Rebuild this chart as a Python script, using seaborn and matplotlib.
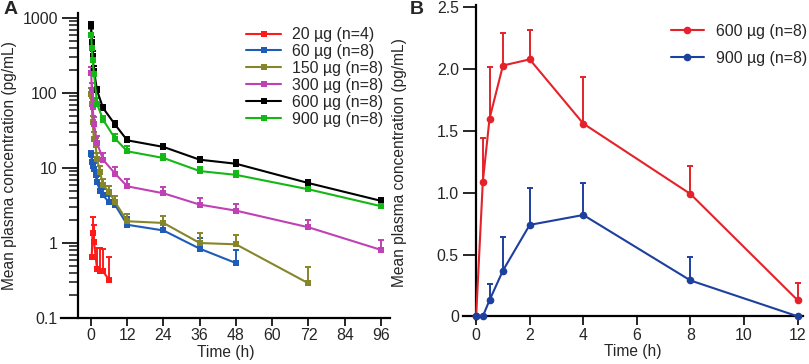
import numpy as np
import pandas as pd
import matplotlib
matplotlib.use("Agg")
import matplotlib.pyplot as plt
from matplotlib.lines import Line2D
from matplotlib.ticker import LogLocator, NullFormatter, FixedLocator
import seaborn as sns

# ---------------- Panel A data ----------------
t_20 = [0.25, 0.5, 1, 2, 3, 4, 6]
c_20 = [0.66, 1.35, 1.03, 0.455, 0.42, 0.42, 0.32]
u_20 = [0.70, 2.2, 1.72, 0.87, 0.85, 0.83, 0.65]

t_60 = [0.083, 0.25, 0.5, 1, 1.5, 2, 3, 4, 6, 8, 12, 24, 36, 48]
c_60 = [15.5, 12, 10.5, 9.8, 8.0, 6.5, 5.0, 4.3, 3.5, 3.2, 1.75, 1.47, 0.84, 0.54]
u_60 = [17.0, 14, 12.5, 11.5, 9.5, 7.8, 6.0, 5.2, 4.2, 3.8, 2.2, 1.9, 1.18, 0.8]

t_150 = [0.083, 0.25, 0.5, 1, 1.5, 2, 3, 4, 6, 8, 12, 24, 36, 48, 72]
c_150 = [98, 72, 41, 24, 20, 13.3, 8.8, 5.9, 4.8, 3.5, 1.95, 1.85, 1.0, 0.96, 0.29]
u_150 = [115, 85, 50, 30, 25, 16, 10.5, 7.2, 5.8, 4.2, 2.4, 2.27, 1.36, 1.27, 0.48]

t_300 = [0.083, 0.25, 0.5, 1, 2, 4, 8, 12, 24, 36, 48, 72, 96]
c_300 = [185, 108, 66, 39, 21.6, 12.9, 8.4, 5.7, 4.6, 3.25, 2.7, 1.62, 0.81]
u_300 = [225, 135, 80, 48, 27, 16, 10.3, 7.2, 5.6, 4.0, 3.3, 2.05, 1.1]

t_600 = [0.083, 0.25, 0.5, 1, 2, 4, 8, 12, 24, 36, 48, 72, 96]
c_600 = [780, 480, 310, 197, 108, 63, 37.8, 23.4, 19.1, 12.9, 11.4, 6.3, 3.65]
u_600 = [880, 560, 360, 230, 122, 70, 42, 26, 21, 14.2, 12.8, 7.0, 4.0]

t_900 = [0.083, 0.25, 0.5, 1, 2, 4, 8, 12, 24, 36, 48, 72, 96]
c_900 = [600, 400, 273, 181, 72, 44, 24.6, 16.7, 13.6, 9.1, 8.1, 5.2, 3.1]
u_900 = [720, 450, 310, 210, 85, 50, 28, 19.5, 15.5, 10.3, 9.2, 5.8, 3.4]

labels_A = ["20 µg (n=4)", "60 µg (n=8)", "150 µg (n=8)",
            "300 µg (n=8)", "600 µg (n=8)", "900 µg (n=8)"]
colors_A = ["#ff1a1a", "#1f5cb8", "#85862a", "#c041b3", "#000000", "#14b814"]

# ---------------- Panel B data ----------------
t_B = [0, 0.25, 0.5, 1, 2, 4, 8, 12]
c_B600 = [0, 1.09, 1.60, 2.03, 2.08, 1.56, 0.99, 0.13]
u_B600 = [0, 1.44, 2.02, 2.29, 2.32, 1.94, 1.22, 0.27]
c_B900 = [0, 0, 0.13, 0.37, 0.74, 0.82, 0.29, 0.0]
u_B900 = [0, 0, 0.26, 0.64, 1.04, 1.08, 0.48, 0.0]
labels_B = ["600 µg (n=8)", "900 µg (n=8)"]
colors_B = ["#e3222a", "#1d3f9e"]

sns.set_theme(style="white")
plt.rcParams['font.family'] = ['Liberation Sans', 'DejaVu Sans']
plt.rcParams['font.size'] = 11

FS = 11.4
W, H = 809, 364
fig = plt.figure(figsize=(W / 100, H / 100), dpi=100)

def frac(l, r, t, b):
    return [l / W, (H - b) / H, (r - l) / W, (b - t) / H]

# ================= Panel A =================
axA = fig.add_axes(frac(61, 390, 13, 318))
seriesA = [(t_20, c_20, u_20), (t_60, c_60, u_60), (t_150, c_150, u_150),
           (t_300, c_300, u_300), (t_600, c_600, u_600), (t_900, c_900, u_900)]
rows = []
for lab, (t, c, u) in zip(labels_A, seriesA):
    for ti, ci in zip(t, c):
        rows.append({"t": ti, "c": ci, "dose": lab})
dfA = pd.DataFrame(rows)
pal_A = dict(zip(labels_A, colors_A))
sns.lineplot(data=dfA, x="t", y="c", hue="dose", palette=pal_A, marker="s",
             markersize=4, markeredgewidth=0, linewidth=1.5, ax=axA,
             legend=False, estimator=None, sort=False, zorder=3)
for col, (t, c, u) in zip(colors_A, seriesA):
    c = np.array(c); u = np.array(u)
    axA.errorbar(t, c, yerr=[np.zeros_like(c), u - c], fmt="none", ecolor=col,
                 elinewidth=1.4, capsize=2.5, capthick=1.4, zorder=2)
axA.set_yscale("log")
axA.set_xlim(-9.93, 99)
axA.set_ylim(0.1, 1166)
axA.spines["left"].set_position(("data", -4.3))
axA.spines["top"].set_visible(False)
axA.spines["right"].set_visible(False)
for s in ["left", "bottom"]:
    axA.spines[s].set_linewidth(1.6)
    axA.spines[s].set_color("black")
axA.set_xticks([0, 12, 24, 36, 48, 60, 72, 84, 96])
axA.set_xticklabels(["0", "12", "24", "36", "48", "60", "72", "84", "96"])
axA.yaxis.set_major_locator(FixedLocator([0.1, 1, 10, 100, 1000]))
axA.set_yticklabels(["0.1", "1", "10", "100", "1000"])
axA.yaxis.set_minor_locator(LogLocator(base=10, subs=np.arange(2, 10), numticks=20))
axA.yaxis.set_minor_formatter(NullFormatter())
axA.tick_params(axis="y", which="major", direction="out", length=11.5, width=1.4,
                pad=3, labelsize=FS, left=True)
axA.tick_params(axis="y", which="minor", direction="out", length=6.5, width=1.2, left=True)
axA.tick_params(axis="x", which="major", direction="out", length=5.5, width=1.4,
                pad=2, labelsize=FS, bottom=True)
axA.set_xlabel("Time (h)", fontsize=11.2, labelpad=1)
axA.set_ylabel("Mean plasma concentration (pg/mL)", fontsize=11.2, labelpad=4)
axA.grid(False)
handlesA = [Line2D([], [], color=c, marker="s", markersize=4, markeredgewidth=0,
                   linewidth=1.5) for c in colors_A]
axA.legend(handlesA, labels_A, loc="upper left", bbox_to_anchor=(0.53, 0.99),
           frameon=False, fontsize=FS, handlelength=2.2, handletextpad=0.65,
           labelspacing=0.12, borderaxespad=0.3)

# ================= Panel B =================
axB = fig.add_axes(frac(463, 803, 5, 320))
rowsB = []
for lab, c in zip(labels_B, [c_B600, c_B900]):
    for ti, ci in zip(t_B, c):
        rowsB.append({"t": ti, "c": ci, "dose": lab})
dfB = pd.DataFrame(rowsB)
pal_B = dict(zip(labels_B, colors_B))
sns.lineplot(data=dfB, x="t", y="c", hue="dose", palette=pal_B, marker="o",
             markersize=5.5, markeredgewidth=0, linewidth=1.5, ax=axB,
             legend=False, estimator=None, sort=False, zorder=3, clip_on=False)
for col, c, u in zip(colors_B, [c_B600, c_B900], [u_B600, u_B900]):
    c = np.array(c); u = np.array(u)
    axB.errorbar(t_B, c, yerr=[np.zeros_like(c), u - c], fmt="none", ecolor=col,
                 elinewidth=1.4, capsize=2.5, capthick=1.4, zorder=2)
axB.set_xlim(-0.49, 12.2)
axB.set_ylim(-0.03, 2.52)
axB.spines["bottom"].set_position(("data", 0))
axB.spines["left"].set_position(("data", 0))
axB.spines["top"].set_visible(False)
axB.spines["right"].set_visible(False)
for s in ["left", "bottom"]:
    axB.spines[s].set_linewidth(1.6)
    axB.spines[s].set_color("black")
axB.set_xticks([0, 2, 4, 6, 8, 10, 12])
axB.set_yticks([0, 0.5, 1.0, 1.5, 2.0, 2.5])
axB.set_yticklabels(["0", "0.5", "1.0", "1.5", "2.0", "2.5"])
axB.tick_params(axis="y", direction="out", length=9.5, width=1.4, pad=3,
                labelsize=FS, left=True)
axB.tick_params(axis="x", direction="out", length=6.5, width=1.4, pad=2,
                labelsize=FS, bottom=True)
axB.set_xlabel("Time (h)", fontsize=11.2, labelpad=1)
axB.set_ylabel("Mean plasma concentration (pg/mL)", fontsize=11.2, labelpad=21)
axB.grid(False)
handlesB = [Line2D([], [], color=c, marker="o", markersize=5.5, markeredgewidth=0,
                   linewidth=1.5) for c in colors_B]
axB.legend(handlesB, labels_B, loc="upper right", bbox_to_anchor=(1.044, 0.975),
           frameon=False, fontsize=FS, handlelength=2.1, handletextpad=0.75,
           labelspacing=0.75, borderaxespad=0.3)

fig.text(4 / W, 1 - 1 / H, "A", fontsize=14, fontweight="bold", va="top", ha="left")
fig.text(410 / W, 1 - 1 / H, "B", fontsize=14, fontweight="bold", va="top", ha="left")

fig.savefig("out.png", dpi=100)
